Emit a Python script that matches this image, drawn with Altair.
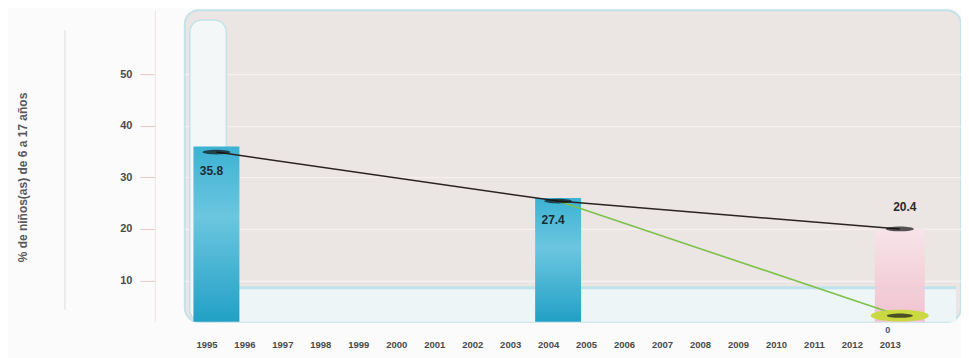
import altair as alt
import pandas as pd

years = list(range(1995, 2014))
bar_years = [1995, 2004]
bar_values = [36.0, 26.0]
line_years = [1995, 2004, 2013]
line_values = [34.9, 25.4, 20.0]
label_texts = ["35.8", "27.4", "20.4"]
label_side = ["below", "below", "above"]
green_years = [2004, 2013]
green_values = [25.4, 3.2]
pink_years = [2013]
pink_values = [20.0]
target_years = [2013]
target_texts = ["0"]
y_ticks = [10, 20, 30, 40, 50]

BASE = 2
XMIN, XMAX = 1994.299, 2014.48
YMIN, YMAX = 2, 62.4

bars = pd.DataFrame({"year": bar_years, "value": bar_values, "base": [BASE] * len(bar_years)})
line = pd.DataFrame({"year": line_years, "value": line_values, "label": label_texts, "side": label_side})
green = pd.DataFrame({"year": green_years, "value": green_values})
pink = pd.DataFrame({"year": pink_years, "value": pink_values, "base": [BASE]})
target = pd.DataFrame({"year": target_years, "value": [green_values[-1]], "text": target_texts})
axis_df = pd.DataFrame({"year": years})

xs = alt.Scale(domain=[XMIN, XMAX], nice=False, zero=False)
ys = alt.Scale(domain=[YMIN, YMAX], nice=False, zero=False)

FONT = "Liberation Sans"

X = alt.X("year:Q", scale=xs, axis=alt.Axis(
    values=years, format="d", title=None, domain=False, ticks=False, grid=False,
    labelOffset=-10, labelPadding=18, labelFontSize=9.5, labelFontWeight="bold",
    labelColor="#4a4a4a", labelFont=FONT, labelFlush=False))

axes = alt.Chart(axis_df).mark_point(opacity=0).encode(
    x=X, y=alt.Y("y:Q", scale=ys, axis=alt.Axis(
        values=y_ticks, title="% de niños(as) de 6 a 17 años", offset=30,
        domainColor="#eee4e2", tickColor="#e3cdc6", tickSize=15, labelPadding=8,
        labelFontSize=11, labelFontWeight="bold", labelColor="#4a4a4a", labelFont=FONT,
        titleFontSize=12, titleFontWeight="bold", titleColor="#5a5a5a", titleFont=FONT,
        titlePadding=90, titleY=167,
        grid=True, gridColor="#f6f1f0", gridWidth=1.2))
).transform_calculate(y="10")

left_col = alt.Chart(pd.DataFrame({"a": [0]})).mark_rect(
    fill="#f4f7f8", stroke="#c3e2ea", strokeWidth=1.5, cornerRadius=12
).encode(x=alt.datum(XMIN), x2=alt.datum(1995.26), y=alt.datum(60.5), y2=alt.datum(YMIN))

low_band = alt.Chart(pd.DataFrame({"a": [0]})).mark_rect(fill="#eef5f7").encode(
    x=alt.datum(1995.26), x2=alt.datum(XMAX), y=alt.datum(8.6), y2=alt.datum(YMIN))

band_rule = alt.Chart(pd.DataFrame({"a": [0]})).mark_rule(color="#bfe3ec", strokeWidth=3).encode(
    x=alt.datum(1995.26), x2=alt.datum(XMAX), y=alt.datum(8.6))

deco = alt.Chart(pd.DataFrame({"a": [0]})).mark_rule(color="#dedede", strokeWidth=1).encode(
    x=alt.value(-120), y=alt.value(20), y2=alt.value(300))

blue_grad = alt.Gradient(gradient="linear", x1=0, x2=0, y1=0, y2=1, stops=[
    alt.GradientStop(offset=0, color="#3cb2d3"),
    alt.GradientStop(offset=0.4, color="#6cc6df"),
    alt.GradientStop(offset=1, color="#22a0c6")])
pink_grad = alt.Gradient(gradient="linear", x1=0, x2=0, y1=0, y2=1, stops=[
    alt.GradientStop(offset=0, color="#f8e4ea"),
    alt.GradientStop(offset=1, color="#f1bccb")])

bar_layer = alt.Chart(bars).mark_bar(size=46, color=blue_grad).encode(
    x=alt.X("year:Q", scale=xs), y=alt.Y("value:Q", scale=ys), y2="base:Q")

pink_layer = alt.Chart(pink).mark_bar(size=50, color=pink_grad, opacity=0.9).encode(
    x=alt.X("year:Q", scale=xs), y=alt.Y("value:Q", scale=ys), y2="base:Q")

ELL = "M-1,0A1,0.2,0,1,1,1,0A1,0.2,0,1,1,-1,0Z"
DASH = "M-1,0A1,0.17,0,1,1,1,0A1,0.17,0,1,1,-1,0Z"

green_line = alt.Chart(green).mark_line(color="#7cc24a", strokeWidth=1.6).encode(
    x=alt.X("year:Q", scale=xs), y=alt.Y("value:Q", scale=ys))

target_ell = alt.Chart(target).mark_point(shape=ELL, size=3364, filled=True,
                                           color="#c8d93a", opacity=0.95).encode(
    x=alt.X("year:Q", scale=xs), y=alt.Y("value:Q", scale=ys))
target_dash = alt.Chart(target).mark_point(shape=DASH, size=676, filled=True, color="#151515").encode(
    x=alt.X("year:Q", scale=xs), y=alt.Y("value:Q", scale=ys))
target_txt = alt.Chart(target).mark_text(font=FONT, fontSize=9, fontWeight="bold",
                                         color="#2f5f78", dx=-12, dy=14).encode(
    x=alt.X("year:Q", scale=xs), y=alt.Y("value:Q", scale=ys), text="text:N")

black_line = alt.Chart(line).mark_line(color="#2b2222", strokeWidth=1.5).encode(
    x=alt.X("year:Q", scale=xs), y=alt.Y("value:Q", scale=ys))
black_dash = alt.Chart(line).mark_point(shape=DASH, size=784, filled=True, color="#111111").encode(
    x=alt.X("year:Q", scale=xs), y=alt.Y("value:Q", scale=ys))

lab_below = alt.Chart(line).transform_filter("datum.side == 'below'").mark_text(
    font=FONT, fontSize=12, fontWeight="bold", color="#1d2b33", dx=-5, dy=19).encode(
    x=alt.X("year:Q", scale=xs), y=alt.Y("value:Q", scale=ys), text="label:N")
lab_above = alt.Chart(line).transform_filter("datum.side == 'above'").mark_text(
    font=FONT, fontSize=12, fontWeight="bold", color="#2a2a2a", dx=5, dy=-22).encode(
    x=alt.X("year:Q", scale=xs), y=alt.Y("value:Q", scale=ys), text="label:N")

chart = alt.layer(
    axes, low_band, band_rule, left_col, deco, bar_layer, pink_layer,
    green_line, target_ell, target_dash, target_txt,
    black_line, black_dash, lab_below, lab_above
).properties(
    width=777, height=312,
    autosize=alt.AutoSizeParams(type="none"),
    padding={"left": 177, "top": 2, "right": 0, "bottom": 36},
    background="#fbfbfb"
).configure_view(
    fill="#ebe5e3", stroke="#c3e2ea", strokeWidth=2, cornerRadius=14
)

chart.save("out.html", embed_options={"renderer": "svg", "actions": False})
